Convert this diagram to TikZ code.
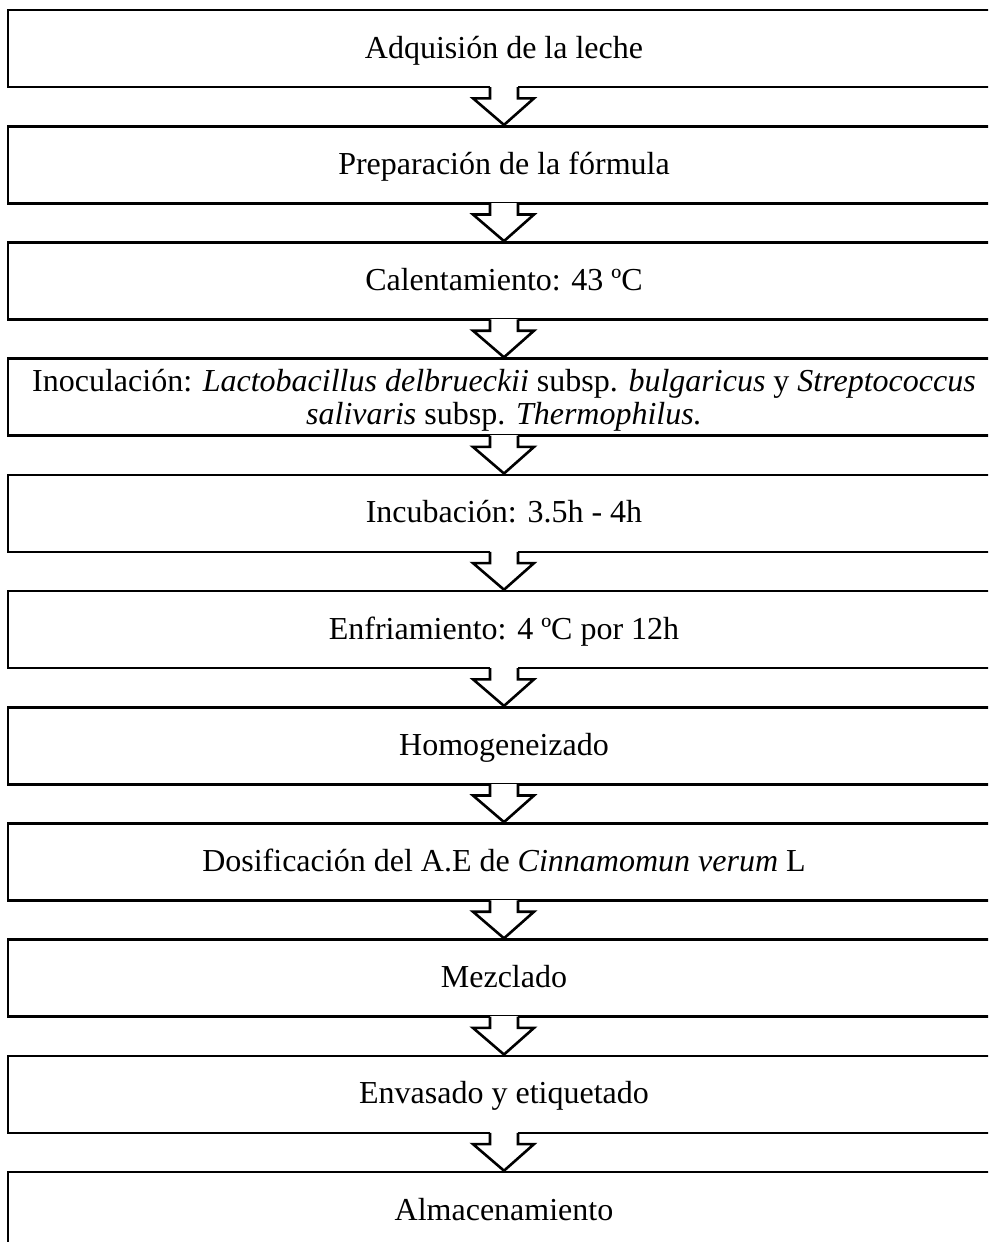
\documentclass[tikz,border=0pt]{standalone}
\usepackage{fontspec}
\setmainfont{Liberation Serif}
\usetikzlibrary{calc}
\begin{document}
\begin{tikzpicture}[x=1pt,y=-1pt,
  stepfont/.style={font=\fontsize{32}{33}\selectfont},
  stepbox/.style={draw=black, line width=2.6pt, fill=white, minimum width=992pt,
    minimum height=77pt, inner sep=0pt, align=center, text height=25pt,
    text depth=6pt, stepfont},
  flowarrow/.style={draw=black, line width=2.6pt, fill=white, line join=miter}]
\useasboundingbox (0,0) rectangle (988,1242);
\clip (0,0) rectangle (988,1242);
\fill[white] (0,0) rectangle (988,1242);
\foreach \i/\t in {1/{Adquisión de la leche},
  2/{Preparación de la fórmula},
  3/{Calentamiento: 43 ºC},
  4/{},
  5/{Incubación: 3.5h - 4h},
  6/{Enfriamiento: 4 ºC por 12h},
  7/{Homogeneizado},
  8/{Dosificación del A.E de \textit{Cinnamomun verum} L},
  9/{Mezclado},
  10/{Envasado y etiquetado},
  11/{Almacenamiento}}{
  \node[stepbox] (b\i) at (504, {10+116.2*(\i-1)+38.5}) {\t};
}
\node[stepfont, anchor=base, inner sep=0pt] (t4a) at ($(b4.center)+(0,-6)$)
  {Inoculación: \textit{Lactobacillus delbrueckii} subsp. \textit{bulgaricus} y \textit{Streptococcus}};
\node[stepfont, anchor=base, inner sep=0pt] (t4b) at ($(b4.center)+(0,27)$)
  {\textit{salivaris} subsp. \textit{Thermophilus.}};
\foreach \i [evaluate=\i as \j using int(\i+1)] in {1,...,10}{
  \fill[white] ($(b\i.south)+(-14,-2)$) rectangle ($(b\i.south)+(14,10)$);
  \draw[flowarrow] ($(b\i.south)+(-14,-1.3)$) -- ($(b\i.south)+(-14,10)$)
    -- ($(b\i.south)+(-31,10)$) -- (b\j.north) -- ($(b\i.south)+(30,10)$)
    -- ($(b\i.south)+(14,10)$) -- ($(b\i.south)+(14,-1.3)$);
}
\end{tikzpicture}
\end{document}
